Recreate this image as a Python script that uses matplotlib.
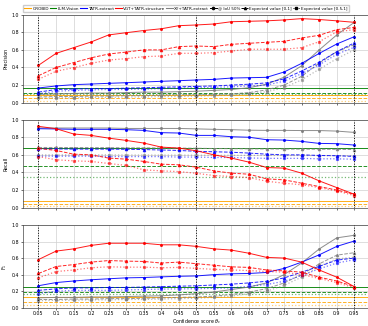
import numpy as np
import matplotlib
matplotlib.use("Agg")
import matplotlib.pyplot as plt
from matplotlib.lines import Line2D

# Confidence-score thresholds
thresholds = [0.05, 0.1, 0.15, 0.2, 0.25, 0.3, 0.35, 0.4, 0.45, 0.5,
              0.55, 0.6, 0.65, 0.7, 0.75, 0.8, 0.85, 0.9, 0.95]
tick_labels = ["0.05", "0.1", "0.15", "0.2", "0.25", "0.3", "0.35", "0.4", "0.45", "0.5",
               "0.55", "0.6", "0.65", "0.7", "0.75", "0.8", "0.85", "0.9", "0.95"]

methods = ["GROBID", "LLM-Vision", "TATR-extract", "VGT+TATR-structure", "XY+TATR-extract"]
colors = {"GROBID": "orange", "LLM-Vision": "green", "TATR-extract": "blue",
          "VGT+TATR-structure": "red", "XY+TATR-extract": "gray"}
variants = ["@ IoU 50%", "Expected value [0,1]", "Expected value [0.5,1]"]

# Methods without a confidence score: constant (IoU50, E[0,1], E[0.5,1])
grobid_precision = [0.085, 0.05, 0.02]
grobid_recall = [0.072, 0.046, 0.023]
grobid_f1 = [0.125, 0.065, 0.035]
llm_precision = [0.165, 0.11, 0.095]
llm_recall = [0.68, 0.475, 0.354]
llm_f1 = [0.25, 0.19, 0.165]

# Precision
tatr_p_iou = [0.167, 0.19, 0.205, 0.212, 0.22, 0.227, 0.235, 0.243, 0.25, 0.258,
              0.265, 0.28, 0.284, 0.288, 0.349, 0.447, 0.56, 0.667, 0.75]
tatr_p_e01 = [0.12, 0.15, 0.155, 0.16, 0.16, 0.165, 0.17, 0.175, 0.18, 0.185,
              0.19, 0.2, 0.21, 0.225, 0.27, 0.36, 0.46, 0.58, 0.68]
tatr_p_e51 = [0.10, 0.13, 0.14, 0.145, 0.15, 0.15, 0.155, 0.16, 0.165, 0.17,
              0.175, 0.18, 0.19, 0.2, 0.245, 0.33, 0.43, 0.55, 0.63]
vgt_p_iou = [0.425, 0.56, 0.625, 0.69, 0.77, 0.795, 0.82, 0.84, 0.875, 0.883,
             0.894, 0.92, 0.925, 0.93, 0.94, 0.955, 0.945, 0.93, 0.913]
vgt_p_e01 = [0.307, 0.40, 0.455, 0.51, 0.553, 0.575, 0.60, 0.60, 0.637, 0.644,
             0.637, 0.663, 0.675, 0.686, 0.697, 0.735, 0.766, 0.83, 0.855]
vgt_p_e51 = [0.266, 0.357, 0.398, 0.447, 0.485, 0.50, 0.523, 0.53, 0.561, 0.561,
             0.568, 0.587, 0.607, 0.607, 0.607, 0.625, 0.693, 0.805, 0.83]
xy_p_iou = [0.095, 0.1, 0.105, 0.11, 0.11, 0.115, 0.12, 0.12, 0.125, 0.13,
            0.14, 0.15, 0.17, 0.21, 0.29, 0.42, 0.6, 0.77, 0.913]
xy_p_e01 = [0.065, 0.07, 0.07, 0.075, 0.075, 0.08, 0.08, 0.085, 0.09, 0.09,
            0.095, 0.1, 0.115, 0.145, 0.2, 0.3, 0.45, 0.58, 0.66]
xy_p_e51 = [0.05, 0.055, 0.055, 0.06, 0.06, 0.065, 0.065, 0.07, 0.07, 0.075,
            0.08, 0.085, 0.1, 0.125, 0.17, 0.26, 0.38, 0.5, 0.6]

# Recall
tatr_r_iou = [0.897, 0.894, 0.89, 0.89, 0.89, 0.886, 0.878, 0.852, 0.848, 0.821,
              0.821, 0.806, 0.80, 0.772, 0.768, 0.753, 0.73, 0.727, 0.711]
tatr_r_e01 = [0.669, 0.667, 0.665, 0.665, 0.665, 0.663, 0.66, 0.655, 0.65, 0.64,
              0.635, 0.63, 0.62, 0.608, 0.6, 0.6, 0.593, 0.59, 0.582]
tatr_r_e51 = [0.585, 0.585, 0.585, 0.585, 0.58, 0.58, 0.58, 0.58, 0.575, 0.575,
              0.57, 0.57, 0.565, 0.56, 0.56, 0.56, 0.555, 0.555, 0.55]
vgt_r_iou = [0.924, 0.897, 0.837, 0.821, 0.79, 0.764, 0.734, 0.688, 0.677, 0.646,
             0.60, 0.563, 0.517, 0.456, 0.449, 0.392, 0.304, 0.228, 0.152]
vgt_r_e01 = [0.673, 0.65, 0.608, 0.60, 0.563, 0.551, 0.525, 0.494, 0.487, 0.46,
             0.418, 0.392, 0.38, 0.327, 0.316, 0.278, 0.24, 0.2, 0.152]
vgt_r_e51 = [0.58, 0.544, 0.532, 0.525, 0.502, 0.48, 0.43, 0.418, 0.41, 0.39,
             0.365, 0.354, 0.342, 0.30, 0.278, 0.26, 0.228, 0.19, 0.137]
xy_r_iou = [0.905, 0.905, 0.905, 0.905, 0.905, 0.9, 0.9, 0.9, 0.9, 0.895,
            0.89, 0.886, 0.88, 0.878, 0.878, 0.876, 0.876, 0.87, 0.855]
xy_r_e01 = [0.684, 0.684, 0.683, 0.682, 0.682, 0.68, 0.68, 0.678, 0.677, 0.675,
            0.672, 0.67, 0.668, 0.667, 0.666, 0.665, 0.664, 0.663, 0.66]
xy_r_e51 = [0.60, 0.60, 0.60, 0.60, 0.60, 0.598, 0.598, 0.597, 0.597, 0.596,
            0.595, 0.595, 0.594, 0.594, 0.593, 0.593, 0.592, 0.591, 0.59]

# F1
tatr_f_iou = [0.266, 0.304, 0.323, 0.338, 0.35, 0.361, 0.365, 0.373, 0.38, 0.384,
              0.40, 0.41, 0.414, 0.426, 0.475, 0.551, 0.639, 0.741, 0.806]
tatr_f_e01 = [0.21, 0.228, 0.24, 0.24, 0.245, 0.245, 0.25, 0.255, 0.26, 0.265,
              0.275, 0.285, 0.30, 0.32, 0.36, 0.43, 0.5, 0.575, 0.6]
tatr_f_e51 = [0.17, 0.2, 0.21, 0.21, 0.21, 0.215, 0.22, 0.225, 0.228, 0.23,
              0.235, 0.24, 0.26, 0.28, 0.32, 0.39, 0.47, 0.54, 0.58]
vgt_f_iou = [0.582, 0.684, 0.711, 0.753, 0.779, 0.779, 0.779, 0.76, 0.76, 0.741,
             0.711, 0.696, 0.658, 0.608, 0.60, 0.551, 0.456, 0.369, 0.255]
vgt_f_e01 = [0.414, 0.498, 0.521, 0.551, 0.57, 0.563, 0.559, 0.54, 0.551, 0.532,
             0.513, 0.494, 0.487, 0.456, 0.445, 0.43, 0.369, 0.323, 0.255]
vgt_f_e51 = [0.361, 0.437, 0.456, 0.483, 0.494, 0.49, 0.49, 0.483, 0.487, 0.475,
             0.464, 0.456, 0.449, 0.437, 0.43, 0.40, 0.354, 0.304, 0.24]
xy_f_iou = [0.12, 0.125, 0.125, 0.13, 0.13, 0.135, 0.14, 0.145, 0.155, 0.17,
            0.19, 0.22, 0.25, 0.3, 0.4, 0.54, 0.71, 0.844, 0.875]
xy_f_e01 = [0.1, 0.1, 0.105, 0.105, 0.11, 0.11, 0.115, 0.12, 0.125, 0.13,
            0.14, 0.16, 0.19, 0.23, 0.3, 0.4, 0.53, 0.635, 0.665]
xy_f_e51 = [0.085, 0.09, 0.09, 0.095, 0.095, 0.1, 0.1, 0.105, 0.11, 0.115,
            0.125, 0.14, 0.17, 0.2, 0.27, 0.37, 0.5, 0.59, 0.61]

panels = [
    ("Precision", grobid_precision, llm_precision,
     {"TATR-extract": [tatr_p_iou, tatr_p_e01, tatr_p_e51],
      "VGT+TATR-structure": [vgt_p_iou, vgt_p_e01, vgt_p_e51],
      "XY+TATR-extract": [xy_p_iou, xy_p_e01, xy_p_e51]}),
    ("Recall", grobid_recall, llm_recall,
     {"TATR-extract": [tatr_r_iou, tatr_r_e01, tatr_r_e51],
      "VGT+TATR-structure": [vgt_r_iou, vgt_r_e01, vgt_r_e51],
      "XY+TATR-extract": [xy_r_iou, xy_r_e01, xy_r_e51]}),
    ("F$_1$", grobid_f1, llm_f1,
     {"TATR-extract": [tatr_f_iou, tatr_f_e01, tatr_f_e51],
      "VGT+TATR-structure": [vgt_f_iou, vgt_f_e01, vgt_f_e51],
      "XY+TATR-extract": [xy_f_iou, xy_f_e01, xy_f_e51]}),
]

styles = [dict(ls="-", marker="o", ms=1.2, lw=0.7, alpha=0.9),
          dict(ls="--", marker="^", ms=1.6, lw=0.7, alpha=0.85),
          dict(ls=":", marker="s", ms=1.3, lw=0.9, alpha=0.55)]

fs = 3.4
fig = plt.figure(figsize=(3.68, 3.26), dpi=100)
x_left, x_width = 0.0617, 0.944
positions = [(0.685, 0.27), (0.363, 0.27), (0.056, 0.254)]

for i, (ylab, grobid, llm, series) in enumerate(panels):
    b, h = positions[i]
    ax = fig.add_axes([x_left, b, x_width, h])
    ax.grid(True, color="#d0d0d0", lw=0.5)
    ax.set_axisbelow(True)
    for k in range(3):
        ax.axhline(grobid[k], color=colors["GROBID"], ls=styles[k]["ls"],
                   lw=styles[k]["lw"], alpha=styles[k]["alpha"])
        ax.axhline(llm[k], color=colors["LLM-Vision"], ls=styles[k]["ls"],
                   lw=styles[k]["lw"], alpha=styles[k]["alpha"])
    for name in ["XY+TATR-extract", "TATR-extract", "VGT+TATR-structure"]:
        for k in range(3):
            ax.plot(thresholds, series[name][k], color=colors[name], **styles[k])
    for xv in (0.05, 0.5, 0.95):
        ax.axvline(xv, color="black", ls=":", lw=0.7)
    ax.set_ylim(0, 1)
    ax.set_xlim(0.005, 0.995)
    ax.set_xticks(thresholds)
    ax.set_yticks([0, 0.2, 0.4, 0.6, 0.8, 1.0])
    ax.set_ylabel(ylab, fontsize=fs, labelpad=2)
    ax.tick_params(labelsize=fs, length=1.5, width=0.4, pad=1.0)
    for s in ax.spines.values():
        s.set_linewidth(0.5)
        s.set_color("#444444")
    if i < 2:
        ax.set_xticklabels([])
    else:
        ax.set_xticklabels(tick_labels)
        ax.set_xlabel(r"Confidence score $\theta_c$", fontsize=fs, labelpad=0.5)

handles = [Line2D([], [], color=colors[m], lw=0.8) for m in methods]
labels = list(methods)
handles += [Line2D([], [], color="black", ls=styles[k]["ls"], marker=styles[k]["marker"],
                   ms=1.6, lw=0.7) for k in range(3)]
labels += variants
fig.legend(handles, labels, loc="lower left", bbox_to_anchor=(x_left, 0.962),
           ncol=8, fontsize=3.0, handlelength=1.6, handletextpad=0.3,
           columnspacing=0.25, borderaxespad=0, frameon=True, fancybox=False,
           edgecolor="#cccccc", framealpha=1, borderpad=0.4)

fig.savefig("out.png", dpi=100)
